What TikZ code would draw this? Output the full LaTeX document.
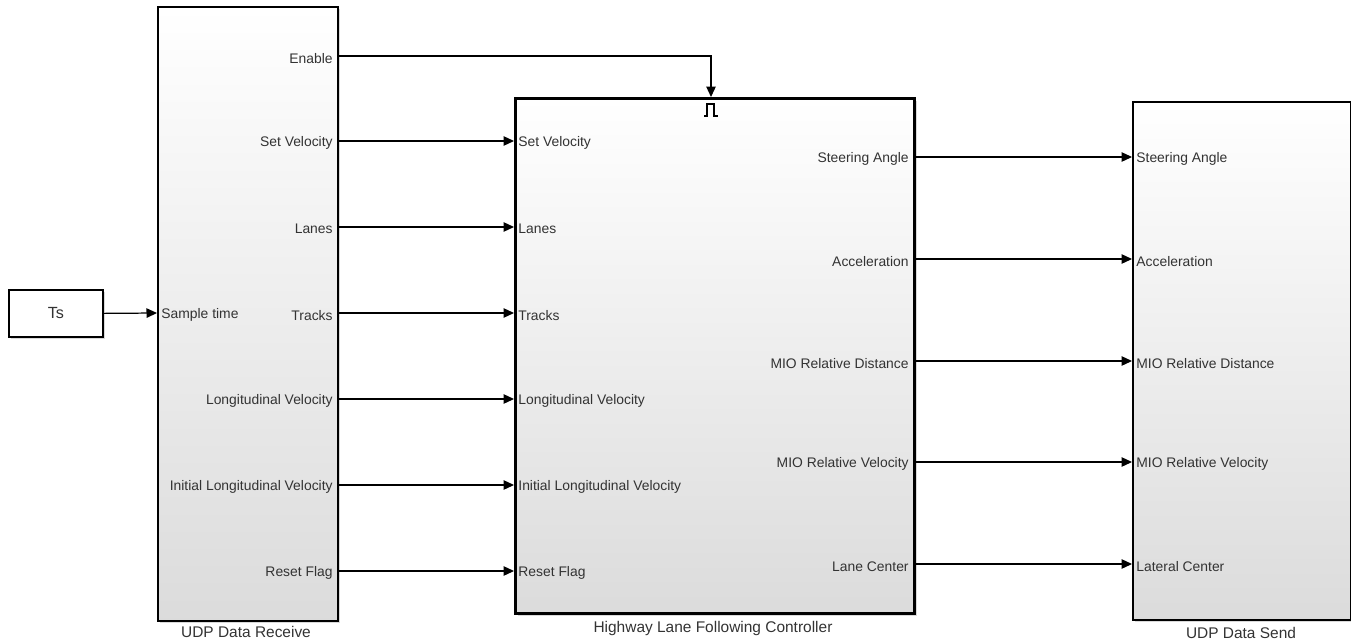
\documentclass[tikz,border=0pt]{standalone}
\usepackage{fontspec}
\setmainfont{Liberation Sans}
\usetikzlibrary{arrows.meta,shadows}
\tikzset{
  blk/.style={draw=black, line width=1pt, top color=white, bottom color=black!14,
    anchor=north west, inner sep=0pt,
    drop shadow={shadow xshift=1.3pt, shadow yshift=-1.3pt, opacity=0.3}},
  sig/.style={line width=0.7pt, -{Triangle[length=0.21cm,width=0.19cm]}},
  plbl/.style={font=\fontsize{7.9}{9}\selectfont, text=black!80, inner sep=0pt, yshift=-1.3pt},
  blbl/.style={font=\fontsize{8.8}{10}\selectfont, text=black!80, inner sep=0pt},
}
\begin{document}
\begin{tikzpicture}[x=0.02cm, y=-0.02cm]
  \useasboundingbox (0,0) rectangle (1351,642);
  % blocks
  \node[blk, fill=white, top color=white, bottom color=white, minimum width=1.88cm, minimum height=0.94cm] (ts) at (8,289) {};
  \node[blbl, font=\fontsize{9.2}{10}\selectfont] at (ts.center) {Ts};
  \node[blk, minimum width=3.6cm, minimum height=12.28cm] (recv) at (157,6) {};
  \node[blk, line width=1.8pt, minimum width=7.98cm, minimum height=10.3cm] (ctrl) at (514,97) {};
  \node[blk, minimum width=4.36cm, minimum height=10.36cm] (send) at (1132,101) {};
  \node[blbl] at (246,632) {UDP Data Receive};
  \node[blbl] at (713,628) {Highway Lane Following Controller};
  \node[blbl] at (1241,633) {UDP Data Send};
  % ports of UDP Data Receive
  \coordinate (ri) at (157,313);
  \coordinate (ro0) at (337,56);
  \coordinate (ro1) at (337,141);
  \coordinate (ro2) at (337,227);
  \coordinate (ro3) at (337,313);
  \coordinate (ro4) at (337,399);
  \coordinate (ro5) at (337,485);
  \coordinate (ro6) at (337,571);
  \node[plbl, right=2.3pt] at (ri) {Sample time};
  \node[plbl, left=2.3pt] at (ro0) {Enable};
  \node[plbl, left=2.3pt] at (ro1) {Set Velocity};
  \node[plbl, left=2.3pt] at (ro2) {Lanes};
  \node[plbl, left=2.3pt] at (ro3) {Tracks};
  \node[plbl, left=2.3pt] at (ro4) {Longitudinal Velocity};
  \node[plbl, left=2.3pt] at (ro5) {Initial Longitudinal Velocity};
  \node[plbl, left=2.3pt] at (ro6) {Reset Flag};
  % ports of the controller
  \coordinate (ce) at (711,97);
  \coordinate (ci1) at (514,141);
  \coordinate (ci2) at (514,227);
  \coordinate (ci3) at (514,313);
  \coordinate (ci4) at (514,399);
  \coordinate (ci5) at (514,485);
  \coordinate (ci6) at (514,571);
  \coordinate (co1) at (913,157);
  \coordinate (co2) at (913,259);
  \coordinate (co3) at (913,361);
  \coordinate (co4) at (913,462);
  \coordinate (co5) at (913,564);
  \draw[line width=0.6pt] (704,116) -- (707,116) -- (707,104) -- (714,104) -- (714,116) -- (718,116);
  \node[plbl, right=2.3pt] at (ci1) {Set Velocity};
  \node[plbl, right=2.3pt] at (ci2) {Lanes};
  \node[plbl, right=2.3pt] at (ci3) {Tracks};
  \node[plbl, right=2.3pt] at (ci4) {Longitudinal Velocity};
  \node[plbl, right=2.3pt] at (ci5) {Initial Longitudinal Velocity};
  \node[plbl, right=2.3pt] at (ci6) {Reset Flag};
  \node[plbl, left=2.3pt] at (co1) {Steering Angle};
  \node[plbl, left=2.3pt] at (co2) {Acceleration};
  \node[plbl, left=2.3pt] at (co3) {MIO Relative Distance};
  \node[plbl, left=2.3pt] at (co4) {MIO Relative Velocity};
  \node[plbl, left=2.3pt] at (co5) {Lane Center};
  % ports of UDP Data Send
  \coordinate (si1) at (1132,157);
  \coordinate (si2) at (1132,259);
  \coordinate (si3) at (1132,361);
  \coordinate (si4) at (1132,462);
  \coordinate (si5) at (1132,564);
  \node[plbl, right=2.3pt] at (si1) {Steering Angle};
  \node[plbl, right=2.3pt] at (si2) {Acceleration};
  \node[plbl, right=2.3pt] at (si3) {MIO Relative Distance};
  \node[plbl, right=2.3pt] at (si4) {MIO Relative Velocity};
  \node[plbl, right=2.3pt] at (si5) {Lateral Center};
  % signals
  \draw[sig] (ts.east) -- (ri);
  \draw[sig] (ro0) -| (ce);
  \draw[sig] (ro1) -- (ci1);
  \draw[sig] (ro2) -- (ci2);
  \draw[sig] (ro3) -- (ci3);
  \draw[sig] (ro4) -- (ci4);
  \draw[sig] (ro5) -- (ci5);
  \draw[sig] (ro6) -- (ci6);
  \draw[sig] (co1) -- (si1);
  \draw[sig] (co2) -- (si2);
  \draw[sig] (co3) -- (si3);
  \draw[sig] (co4) -- (si4);
  \draw[sig] (co5) -- (si5);
\end{tikzpicture}
\end{document}
